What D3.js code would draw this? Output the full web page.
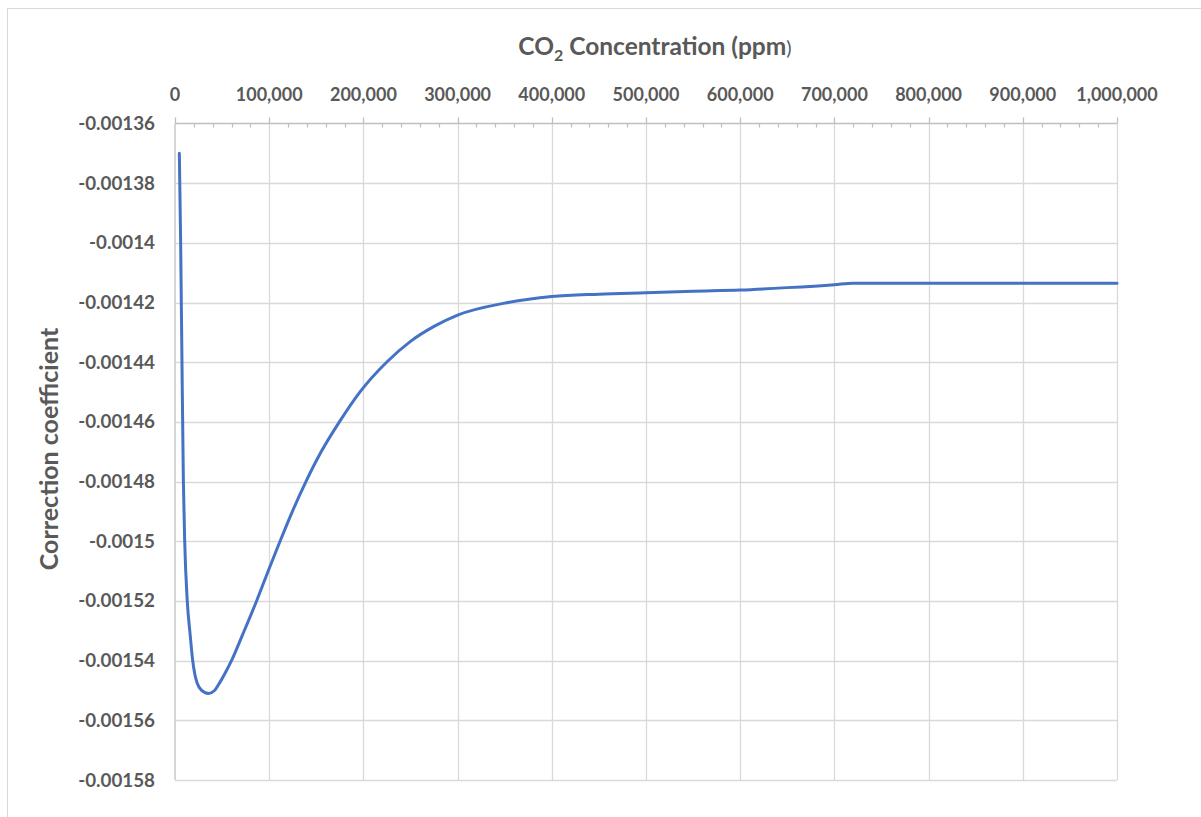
<!DOCTYPE html>
<html>
<head>
<meta charset="utf-8">
<script src="https://cdn.jsdelivr.net/npm/d3@7"></script>
<style>
  html, body { margin: 0; padding: 0; background: #fff; }
  svg { display: block; }
  text { font-family: Lato, "Open Sans", sans-serif; fill: #595959; }
</style>
</head>
<body>
<svg id="chart" width="1201" height="817"></svg>
<script>
// ---- data ----
const ppm = [4600, 6000, 7400, 8900, 10300, 13000, 16000, 18800, 21000, 23500, 28000, 35400, 42000, 47800, 54000,
  60000, 72000, 86600, 100000, 111500, 125000, 139000, 155000, 174500, 196000, 224600, 250000,
  275000, 300000, 350000, 400000, 450000, 500000, 550000, 600000, 650000, 700000, 720000,
  800000, 900000, 1000000];
const coeff = [-0.001370, -0.001400, -0.001440, -0.001480, -0.001500, -0.001520, -0.001531, -0.001540,
  -0.0015445, -0.0015475, -0.0015499, -0.001551, -0.00155, -0.0015472, -0.0015437,
  -0.001540, -0.0015311, -0.001520, -0.0015091, -0.001500, -0.0014897, -0.001480, -0.0014701, -0.001460,
  -0.0014501, -0.001440, -0.001433, -0.001428, -0.0014242, -0.0014202, -0.001418, -0.0014172,
  -0.0014167, -0.0014162, -0.0014158, -0.001415, -0.001414, -0.0014135,
  -0.0014135, -0.0014135, -0.0014135];
const xTicks = [0, 100000, 200000, 300000, 400000, 500000, 600000, 700000, 800000, 900000, 1000000];
const xTickLabels = ["0", "100,000", "200,000", "300,000", "400,000", "500,000", "600,000", "700,000", "800,000", "900,000", "1,000,000"];
const yTicks = [-0.00136, -0.00138, -0.0014, -0.00142, -0.00144, -0.00146, -0.00148, -0.0015, -0.00152, -0.00154, -0.00156, -0.00158];
const yTickLabels = ["-0.00136", "-0.00138", "-0.0014", "-0.00142", "-0.00144", "-0.00146", "-0.00148", "-0.0015", "-0.00152", "-0.00154", "-0.00156", "-0.00158"];
const xTitle = "CO";
const yTitle = "Correction coefficient";

// ---- layout ----
const svg = d3.select("#chart");
const L = 175, R = 1117, T = 123.5, B = 780;
const x = d3.scaleLinear().domain([0, 1000000]).range([L, R]);
const y = d3.scaleLinear().domain([-0.00158, -0.00136]).range([B, T]);

// chart border
svg.append("rect").attr("x", 7.5).attr("y", 8.5).attr("width", 1200).attr("height", 820)
  .attr("fill", "none").attr("stroke", "#d9d9d9").attr("stroke-width", 1);

// horizontal gridlines
svg.append("g").selectAll("line").data(yTicks.slice(1)).join("line")
  .attr("x1", L).attr("x2", R)
  .attr("y1", d => Math.round(y(d)) + 0.5).attr("y2", d => Math.round(y(d)) + 0.5)
  .attr("stroke", "#d9d9d9").attr("stroke-width", 1.3);

// vertical gridlines
svg.append("g").selectAll("line").data(xTicks.slice(1)).join("line")
  .attr("x1", d => Math.round(x(d)) + 0.5).attr("x2", d => Math.round(x(d)) + 0.5)
  .attr("y1", T).attr("y2", B)
  .attr("stroke", "#d9d9d9").attr("stroke-width", 1.3);

// top axis (major ticks up, minor ticks down)
const topAxis = svg.append("g");
topAxis.append("line").attr("x1", L).attr("x2", R).attr("y1", T).attr("y2", T)
  .attr("stroke", "#bfbfbf").attr("stroke-width", 1.3);
topAxis.selectAll("line.maj").data(xTicks).join("line").attr("class", "maj")
  .attr("x1", d => Math.round(x(d)) + 0.5).attr("x2", d => Math.round(x(d)) + 0.5)
  .attr("y1", T - 6).attr("y2", T)
  .attr("stroke", "#bfbfbf").attr("stroke-width", 1.3);
const minor = d3.range(0, 1000001, 20000).filter(v => v % 100000 !== 0);
topAxis.selectAll("line.min").data(minor).join("line").attr("class", "min")
  .attr("x1", d => Math.round(x(d)) + 0.5).attr("x2", d => Math.round(x(d)) + 0.5)
  .attr("y1", T).attr("y2", T + 4)
  .attr("stroke", "#bfbfbf").attr("stroke-width", 1.2);
topAxis.selectAll("text").data(xTicks).join("text")
  .attr("x", d => x(d)).attr("y", 101)
  .attr("text-anchor", "middle").attr("font-weight", "bold").attr("font-size", 18)
  .text((d, i) => xTickLabels[i]);

// left axis line
svg.append("line").attr("x1", L).attr("x2", L).attr("y1", T).attr("y2", B)
  .attr("stroke", "#c8c8c8").attr("stroke-width", 1.5);

// y tick labels
svg.append("g").selectAll("text").data(yTicks).join("text")
  .attr("x", 155).attr("y", d => y(d) + 6.5)
  .attr("text-anchor", "end").attr("font-weight", "bold").attr("font-size", 18.8)
  .text((d, i) => yTickLabels[i]);

// x title
const tt = svg.append("text").attr("x", 655).attr("y", 55)
  .attr("text-anchor", "middle").attr("font-weight", "bold").attr("font-size", 24.5);
tt.append("tspan").text(xTitle);
tt.append("tspan").attr("dy", 6).attr("font-size", 16).text("2");
tt.append("tspan").attr("dy", -6).text(" Concentration (ppm");
tt.append("tspan").attr("font-weight", "normal").attr("font-size", 20).text(")");

// y title
svg.append("text").attr("transform", "translate(58,449) rotate(-90)")
  .attr("text-anchor", "middle").attr("font-weight", "bold").attr("font-size", 25)
  .text(yTitle);

// line
const pts = ppm.map((p, i) => [p, coeff[i]]);
svg.append("path").datum(pts)
  .attr("fill", "none").attr("stroke", "#4472C4").attr("stroke-width", 3)
  .attr("stroke-linejoin", "round").attr("stroke-linecap", "round")
  .attr("d", d3.line().x(d => x(d[0])).y(d => y(d[1])).curve(d3.curveMonotoneX));
</script>
</body>
</html>
